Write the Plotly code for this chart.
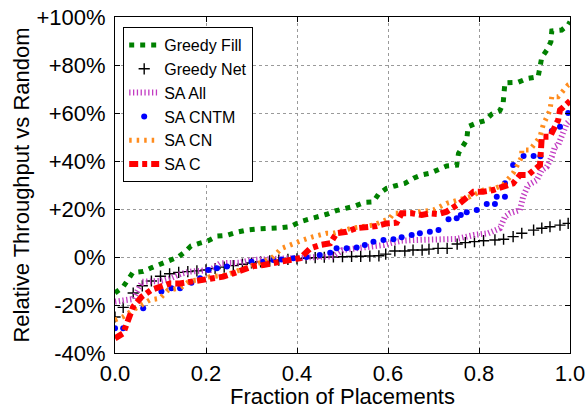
import plotly.graph_objects as go

# ---- data (fraction of placements, relative throughput in %) ----
gf_x = [0.0, 0.018, 0.039, 0.062, 0.081, 0.101, 0.121, 0.139, 0.154, 0.167, 0.185, 0.205, 0.225, 0.245,
        0.267, 0.289, 0.315, 0.341, 0.366, 0.385, 0.407, 0.425, 0.447, 0.465, 0.486, 0.505, 0.527, 0.549,
        0.568, 0.579, 0.597, 0.615, 0.637, 0.656, 0.674, 0.692, 0.711, 0.729, 0.751, 0.755, 0.773, 0.776,
        0.793, 0.813, 0.828, 0.846, 0.853, 0.857, 0.886, 0.906, 0.930, 0.938, 0.949, 0.958, 0.960, 0.982,
        0.996, 1.0]
gf_y = [-15, -12.4, -6.5, -6, -4.4, -2.8, -1.5, 0, 2.2, 4.6, 5.7, 6.8, 8.7, 9,
        10.3, 11.2, 11.7, 11.7, 12.2, 12.6, 14.7, 15.7, 16.8, 17.8, 19.3, 20, 21.2, 22.8,
        23, 26.2, 28.6, 29.6, 30.7, 32.8, 34.2, 34.9, 36.2, 37.9, 38.3, 43.2, 48.8, 54.3,
        55.7, 56.8, 59.5, 61, 64, 72.6, 72.8, 74.4, 75.1, 83.2, 86.2, 89.7, 94.2, 94.6,
        96.7, 98]

gn_x = [0.0, 0.018, 0.04, 0.06, 0.08, 0.10, 0.12, 0.14, 0.16, 0.18, 0.20, 0.22, 0.24, 0.26, 0.28,
        0.30, 0.32, 0.34, 0.36, 0.38, 0.40, 0.42, 0.44, 0.46, 0.48, 0.50, 0.52, 0.54, 0.56, 0.58,
        0.595, 0.615, 0.637, 0.655, 0.675, 0.69, 0.71, 0.73, 0.752, 0.77, 0.79, 0.81, 0.835, 0.854,
        0.875, 0.894, 0.92, 0.938, 0.956, 0.978, 0.996]
gn_y = [-25, -21, -15, -12, -10, -8, -7, -6.4, -6.1, -5.8, -5.4, -4.8, -4.2, -3.6, -3,
        -2.5, -2, -1.6, -1.3, -1, -0.8, -0.5, -0.3, -0.1, 0, 0.1, 0.2, 0.3, 0.4, 0.5,
        1.2, 2.5, 2.5, 2.9, 2.9, 3.3, 3.6, 3.6, 5.4, 6, 6.4, 6.8, 7.1, 7.4,
        8.5, 9.9, 11.2, 12, 12.6, 13.3, 14]

sa_all_x = [0.0, 0.02, 0.04, 0.06, 0.08, 0.10, 0.12, 0.145, 0.165, 0.187, 0.209, 0.231, 0.253, 0.275,
            0.30, 0.33, 0.36, 0.39, 0.42, 0.45, 0.48, 0.50, 0.53, 0.56, 0.59, 0.61, 0.63, 0.66, 0.69,
            0.72, 0.75, 0.79, 0.82, 0.846, 0.857, 0.868, 0.89, 0.897, 0.908, 0.927, 0.938, 0.949,
            0.96, 0.967, 0.974, 0.993, 1.0]
sa_all_y = [-18.6, -18, -17.5, -10.3, -10.3, -10, -9, -7, -6.1, -5.7, -5.4, -2.6, -2.6, -2.4,
            -1.25, -1, -0.5, -0.5, 0, 0, 0.3, 2.9, 3.6, 4, 5, 6, 6.8, 7.1, 7.1,
            7.4, 7.5, 9.2, 9.9, 12, 16.8, 18.2, 19.6, 25.1, 30, 32, 36.2, 37.6,
            41.8, 46, 46.7, 55.7, 57]

sa_cntm_x = [0.0, 0.018, 0.062, 0.102, 0.124, 0.143, 0.168, 0.187, 0.205, 0.224, 0.246, 0.30, 0.326,
             0.348, 0.366, 0.392, 0.421, 0.45, 0.473, 0.487, 0.509, 0.531, 0.549, 0.568, 0.59, 0.612,
             0.63, 0.652, 0.67, 0.692, 0.711, 0.733, 0.751, 0.76, 0.773, 0.795, 0.817, 0.835, 0.839,
             0.857, 0.857, 0.875, 0.898, 0.92, 0.935, 0.96, 0.978, 0.996]
sa_cntm_y = [-29.7, -29.7, -21.4, -14.4, -13, -13, -10.7, -8.9, -5.4, -4.7, -4, -2, -2,
             -1.25, -1, -0.5, 0, 0.8, 1.8, 3.6, 3.6, 4, 5, 6.4, 7.1, 7.4,
             8.2, 9.2, 9.9, 10.5, 11.2, 15.7, 16.1, 17.5, 18.6, 19.6, 22.1, 22.1, 25.1,
             25.1, 30.7, 38.3, 42.1, 42.1, 42, 52.5, 54.3, 60]

sa_cn_x = [0.0, 0.018, 0.04, 0.059, 0.077, 0.099, 0.117, 0.143, 0.165, 0.187, 0.209, 0.245, 0.282,
           0.304, 0.326, 0.348, 0.366, 0.392, 0.414, 0.436, 0.465, 0.48, 0.52, 0.568, 0.604, 0.612,
           0.641, 0.67, 0.70, 0.729, 0.758, 0.78, 0.81, 0.835, 0.853, 0.875, 0.894, 0.894, 0.912,
           0.934, 0.941, 0.956, 0.96, 0.974, 0.996, 1.0]
sa_cn_y = [-26.2, -24.9, -22, -20, -17.9, -17.2, -13.7, -13, -9.9, -9.6, -8.2, -7.5, -4.7,
           -3.3, -2, 0.1, 3.6, 5.7, 7.1, 8.5, 9.9, 9.9, 12, 13.3, 16.1, 18.2,
           18.2, 18.9, 19.6, 22.4, 23.7, 25.1, 27.9, 28.6, 30, 34.9, 41.8, 44.6, 44.6,
           50.1, 55, 61.2, 66.8, 66.8, 71.7, 72]

sa_c_x = [0.0, 0.018, 0.04, 0.059, 0.08, 0.103, 0.121, 0.143, 0.165, 0.187, 0.209, 0.238, 0.26,
          0.282, 0.304, 0.326, 0.348, 0.37, 0.388, 0.407, 0.429, 0.451, 0.473, 0.487, 0.509, 0.53,
          0.575, 0.597, 0.619, 0.63, 0.652, 0.674, 0.692, 0.711, 0.729, 0.758, 0.788, 0.809, 0.831,
          0.853, 0.875, 0.89, 0.908, 0.934, 0.938, 0.956, 0.974, 0.978, 0.993, 1.0]
sa_c_y = [-33.9, -31.8, -20.7, -16.5, -13.7, -12.4, -11, -11, -10.3, -9.9, -8.9, -8.2, -6.8,
          -5.1, -3.8, -3.3, -2.6, -2, -1.25, -0.5, 3.6, 5, 5.7, 9.9, 10.5, 12,
          12.9, 14, 14.3, 18.2, 18.2, 17.5, 18.2, 17.9, 18.9, 22.4, 27.2, 27.2, 27.9,
          29.3, 30.7, 34.2, 34.2, 38.3, 50.1, 50.1, 57.1, 61.2, 64, 65]

y_ticks = [-40, -20, 0, 20, 40, 60, 80, 100]
y_tick_labels = ["-40%", "-20%", "0%", "+20%", "+40%", "+60%", "+80%", "+100%"]
x_ticks = [0.0, 0.2, 0.4, 0.6, 0.8, 1.0]
x_tick_labels = ["0.0", "0.2", "0.4", "0.6", "0.8", "1.0"]

FONT = "Liberation Sans, Arial, sans-serif"

fig = go.Figure()
fig.add_trace(go.Scatter(x=gf_x, y=gf_y, mode="lines", name="Greedy Fill",
                         line=dict(color="#008000", width=5, dash="5px,6px")))
fig.add_trace(go.Scatter(x=gn_x, y=gn_y, mode="markers", name="Greedy Net",
                         marker=dict(symbol="cross-thin", size=8, color="black",
                                     line=dict(color="black", width=1.4))))
fig.add_trace(go.Scatter(x=sa_all_x, y=sa_all_y, mode="lines", name="SA All",
                         line=dict(color="#c23cc2", width=6, dash="1.3px,2.5px")))
fig.add_trace(go.Scatter(x=sa_cntm_x, y=sa_cntm_y, mode="markers", name="SA CNTM",
                         marker=dict(symbol="circle", size=6, color="#0000ff")))
fig.add_trace(go.Scatter(x=sa_cn_x, y=sa_cn_y, mode="lines", name="SA CN",
                         line=dict(color="#ff8c1e", width=5, dash="2.5px,5px")))
fig.add_trace(go.Scatter(x=sa_c_x, y=sa_c_y, mode="lines", name="SA C",
                         line=dict(color="#ff0000", width=6, dash="9px,4px,5px,4px")))

fig.update_layout(
    width=587, height=409,
    margin=dict(l=115, r=17, t=17, b=56),
    paper_bgcolor="white", plot_bgcolor="white",
    font=dict(family=FONT, size=22, color="black"),
    showlegend=True,
    legend=dict(x=0.018, y=0.97, xanchor="left", yanchor="top",
                bgcolor="white", bordercolor="black", borderwidth=1,
                font=dict(family=FONT, size=16, color="black"),
                itemwidth=30, tracegroupgap=0),
)
fig.update_xaxes(range=[0, 1], tickvals=x_ticks, ticktext=x_tick_labels,
                 showline=True, linecolor="black", linewidth=1, mirror="ticks",
                 ticks="inside", ticklen=5, tickcolor="black",
                 showgrid=True, gridcolor="#9a9a9a", griddash="dot", gridwidth=1,
                 zeroline=False, ticklabelstandoff=1, automargin=False,
                 tickfont=dict(family=FONT, size=22),
                 title=dict(text="Fraction of Placements",
                            font=dict(family=FONT, size=22)))
fig.update_yaxes(range=[-40, 100], tickvals=y_ticks, ticktext=y_tick_labels,
                 showline=True, linecolor="black", linewidth=1, mirror="ticks",
                 ticks="inside", ticklen=5, tickcolor="black",
                 showgrid=True, gridcolor="#9a9a9a", griddash="dot", gridwidth=1,
                 zeroline=False, ticklabelstandoff=4, automargin=False,
                 tickfont=dict(family=FONT, size=22),
                 title=dict(text="Relative Throughput vs Random", standoff=0,
                            font=dict(family=FONT, size=22)))

fig.write_html("out.html", config={"displayModeBar": False},
               post_script="document.body.style.margin='0px';document.body.style.padding='0px';")
